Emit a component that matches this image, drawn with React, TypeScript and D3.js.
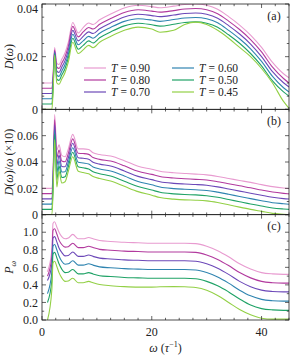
import React from "react";
import * as d3 from "d3";

// frequency grid (tau^-1)
const omega = [0, 1.0, 1.8, 2.0, 2.3, 2.7, 3.1, 3.6, 4.2, 4.8, 5.6, 6.6, 7.5, 8.5, 9.3, 10.5, 12.5, 15, 17.5, 20, 21.5, 24, 26, 28, 30, 32, 34, 36, 38, 40, 42, 44, 45];

const temps = ["0.90", "0.80", "0.70", "0.60", "0.50", "0.45"];
const colors = ["#e89bd0", "#b23a9e", "#6c48b8", "#2f84b0", "#1fa266", "#93d046"];

// (a) D(omega), one row per temperature
const dos = [
  [0.0100, 0.0100, 0.0100, 0.0130, 0.0235, 0.0175, 0.0170, 0.0190, 0.0215, 0.0255, 0.0330, 0.0290, 0.0310, 0.0328, 0.0322, 0.0340, 0.0362, 0.0385, 0.0395, 0.0390, 0.0386, 0.0392, 0.0398, 0.0400, 0.0395, 0.0380, 0.0352, 0.0320, 0.0282, 0.0235, 0.0178, 0.0135, 0.0120],
  [0.0080, 0.0080, 0.0080, 0.0115, 0.0225, 0.0160, 0.0155, 0.0175, 0.0200, 0.0240, 0.0315, 0.0275, 0.0294, 0.0311, 0.0305, 0.0323, 0.0345, 0.0368, 0.0378, 0.0373, 0.0369, 0.0375, 0.0381, 0.0383, 0.0378, 0.0363, 0.0335, 0.0303, 0.0265, 0.0218, 0.0160, 0.0117, 0.0100],
  [0.0060, 0.0060, 0.0060, 0.0100, 0.0220, 0.0145, 0.0140, 0.0160, 0.0185, 0.0225, 0.0300, 0.0260, 0.0277, 0.0294, 0.0288, 0.0306, 0.0328, 0.0351, 0.0361, 0.0356, 0.0352, 0.0358, 0.0364, 0.0366, 0.0361, 0.0346, 0.0318, 0.0286, 0.0248, 0.0200, 0.0143, 0.0101, 0.0085],
  [0.0040, 0.0040, 0.0040, 0.0085, 0.0215, 0.0130, 0.0125, 0.0145, 0.0170, 0.0210, 0.0285, 0.0245, 0.0260, 0.0277, 0.0270, 0.0289, 0.0311, 0.0334, 0.0344, 0.0339, 0.0334, 0.0341, 0.0347, 0.0349, 0.0344, 0.0329, 0.0300, 0.0268, 0.0230, 0.0182, 0.0125, 0.0082, 0.0066],
  [0.0020, 0.0020, 0.0020, 0.0070, 0.0210, 0.0115, 0.0110, 0.0130, 0.0155, 0.0195, 0.0270, 0.0228, 0.0243, 0.0260, 0.0252, 0.0272, 0.0294, 0.0317, 0.0327, 0.0321, 0.0316, 0.0323, 0.0330, 0.0332, 0.0327, 0.0312, 0.0283, 0.0251, 0.0212, 0.0165, 0.0108, 0.0066, 0.0050],
  [0.0000, 0.0000, 0.0000, 0.0055, 0.0205, 0.0100, 0.0095, 0.0115, 0.0140, 0.0180, 0.0255, 0.0212, 0.0226, 0.0243, 0.0234, 0.0255, 0.0277, 0.0300, 0.0312, 0.0305, 0.0293, 0.0300, 0.0322, 0.0331, 0.0322, 0.0300, 0.0270, 0.0235, 0.0200, 0.0155, 0.0100, 0.0030, 0.0004],
];

// (b) D(omega)/omega (x10)
const reduced = [
  [0.020, 0.020, 0.020, 0.030, 0.076, 0.049, 0.053, 0.045, 0.044, 0.050, 0.061, 0.050, 0.050, 0.0495, 0.047, 0.0457, 0.0445, 0.0410, 0.0368, 0.0345, 0.0330, 0.0318, 0.0313, 0.0308, 0.0302, 0.0290, 0.0275, 0.0260, 0.0245, 0.0228, 0.0213, 0.0202, 0.0198],
  [0.016, 0.016, 0.016, 0.027, 0.072, 0.0434, 0.049, 0.0408, 0.0402, 0.0466, 0.0576, 0.0466, 0.0464, 0.0458, 0.0434, 0.0420, 0.0407, 0.0371, 0.0329, 0.0306, 0.0290, 0.0278, 0.0273, 0.0268, 0.0263, 0.0250, 0.0235, 0.0219, 0.0204, 0.0187, 0.0172, 0.0162, 0.0158],
  [0.012, 0.012, 0.012, 0.024, 0.068, 0.0378, 0.045, 0.0366, 0.0364, 0.0432, 0.0542, 0.0432, 0.0428, 0.0421, 0.0398, 0.0384, 0.0369, 0.0332, 0.0291, 0.0266, 0.0250, 0.0238, 0.0233, 0.0229, 0.0223, 0.0211, 0.0195, 0.0179, 0.0163, 0.0147, 0.0132, 0.0122, 0.0119],
  [0.008, 0.008, 0.008, 0.021, 0.064, 0.0322, 0.041, 0.0324, 0.0326, 0.0398, 0.0508, 0.0398, 0.0392, 0.0384, 0.0362, 0.0347, 0.0331, 0.0293, 0.0252, 0.0227, 0.0210, 0.0198, 0.0193, 0.0189, 0.0184, 0.0171, 0.0155, 0.0138, 0.0122, 0.0106, 0.0091, 0.0083, 0.0079],
  [0.004, 0.004, 0.004, 0.018, 0.061, 0.0266, 0.037, 0.0282, 0.0288, 0.0364, 0.0474, 0.0364, 0.0356, 0.0347, 0.0326, 0.0311, 0.0293, 0.0254, 0.0214, 0.0187, 0.0170, 0.0158, 0.0153, 0.0150, 0.0144, 0.0132, 0.0115, 0.0098, 0.0081, 0.0066, 0.0051, 0.0043, 0.0040],
  [0.000, 0.000, 0.000, 0.015, 0.057, 0.021, 0.033, 0.024, 0.025, 0.033, 0.044, 0.033, 0.032, 0.031, 0.029, 0.0274, 0.0255, 0.0215, 0.0175, 0.0148, 0.0130, 0.0118, 0.0112, 0.0110, 0.0105, 0.0092, 0.0075, 0.0057, 0.0040, 0.0025, 0.0010, 0.0003, 0.0000],
];

// (c) participation ratio P_omega
const participation = [
  [null, 0.55, 0.80, 1.10, 1.12, 1.06, 1.00, 0.95, 0.925, 0.935, 0.975, 0.925, 0.925, 0.94, 0.925, 0.905, 0.895, 0.885, 0.88, 0.875, 0.875, 0.875, 0.875, 0.87, 0.84, 0.79, 0.72, 0.64, 0.58, 0.54, 0.525, 0.52, 0.52],
  [null, 0.50, 0.72, 1.02, 1.04, 0.98, 0.91, 0.86, 0.83, 0.835, 0.875, 0.825, 0.825, 0.84, 0.825, 0.805, 0.795, 0.785, 0.78, 0.775, 0.775, 0.775, 0.775, 0.77, 0.74, 0.69, 0.62, 0.54, 0.48, 0.44, 0.425, 0.42, 0.42],
  [null, 0.45, 0.64, 0.93, 0.95, 0.89, 0.82, 0.77, 0.73, 0.735, 0.775, 0.725, 0.725, 0.74, 0.725, 0.705, 0.695, 0.685, 0.68, 0.675, 0.675, 0.675, 0.675, 0.67, 0.64, 0.59, 0.52, 0.44, 0.38, 0.34, 0.325, 0.32, 0.32],
  [null, 0.30, 0.55, 0.84, 0.86, 0.80, 0.73, 0.67, 0.635, 0.64, 0.675, 0.625, 0.625, 0.64, 0.625, 0.605, 0.595, 0.585, 0.58, 0.575, 0.575, 0.575, 0.575, 0.57, 0.54, 0.49, 0.42, 0.34, 0.275, 0.235, 0.22, 0.215, 0.215],
  [null, 0.20, 0.45, 0.75, 0.77, 0.71, 0.64, 0.58, 0.54, 0.545, 0.575, 0.525, 0.525, 0.54, 0.525, 0.505, 0.495, 0.485, 0.48, 0.475, 0.475, 0.475, 0.475, 0.47, 0.44, 0.39, 0.32, 0.24, 0.17, 0.13, 0.115, 0.11, 0.11],
  [null, 0.00, 0.35, 0.65, 0.67, 0.61, 0.54, 0.48, 0.44, 0.445, 0.475, 0.425, 0.425, 0.44, 0.425, 0.405, 0.39, 0.38, 0.375, 0.375, 0.378, 0.38, 0.378, 0.37, 0.34, 0.28, 0.20, 0.12, 0.06, 0.02, 0.01, 0.01, 0.01],
];

const xMajor = [0, 20, 40];
const xMinor = d3.range(0, 45.01, 2.5);

const yMajorA = [0, 0.02, 0.04];
const yMajorALabels = ["0", "0.02", "0.04"];
const yMajorB = [0, 0.02, 0.04, 0.06, 0.08];
const yMajorBLabels = ["0", "0.02", "0.04", "0.06", ""];
const yMajorC = [0, 0.2, 0.4, 0.6, 0.8, 1.0, 1.2];
const yMajorCLabels = ["0.0", "0.2", "0.4", "0.6", "0.8", "1.0", ""];

const FONT = "'Liberation Serif', 'DejaVu Serif', serif";
const left = 42;
const right = 289;
const top = 4;
const bottom = 320;
const ph = (bottom - top) / 3;

export default function App() {
  const x = d3.scaleLinear().domain([0, 45]).range([left, right]);

  const panels = [
    { tag: "(a)", data: dos, max: 0.04, major: yMajorA, labels: yMajorALabels, minorStep: 0.005 },
    { tag: "(b)", data: reduced, max: 0.08, major: yMajorB, labels: yMajorBLabels, minorStep: 0.01 },
    { tag: "(c)", data: participation, max: 1.2, major: yMajorC, labels: yMajorCLabels, minorStep: 0.1 },
  ];

  const tickStroke = "#222";

  return (
    <svg width={291} height={355} style={{ position: "absolute", left: 0, top: 0 }} fontFamily={FONT}>
      {panels.map((p, pi) => {
        const y0 = top + ph * pi;
        const y = d3.scaleLinear().domain([0, p.max]).range([y0 + ph, y0]);
        const line = d3
          .line<number | null>()
          .defined((d) => d !== null)
          .x((_, i) => x(omega[i]))
          .y((d) => y(d as number))
          .curve(d3.curveMonotoneX);
        const yMinor = d3.range(0, p.max + 1e-9, p.minorStep);
        return (
          <g key={p.tag}>
            <defs>
              <clipPath id={"clip" + pi}>
                <rect x={left} y={y0} width={right - left} height={ph} />
              </clipPath>
            </defs>
            <g clipPath={`url(#clip${pi})`}>
              {p.data.map((row, i) => (
                <path key={i} d={line(row as (number | null)[]) || ""} fill="none" stroke={colors[i]} strokeWidth={1.1} />
              ))}
            </g>
            <rect x={left} y={y0} width={right - left} height={ph} fill="none" stroke={tickStroke} strokeWidth={0.8} />
            {xMinor.map((t) => {
              const big = xMajor.includes(t);
              const len = big ? 4 : 2.2;
              return (
                <g key={"x" + t} stroke={tickStroke} strokeWidth={0.7}>
                  <line x1={x(t)} x2={x(t)} y1={y0 + ph} y2={y0 + ph - len} />
                  <line x1={x(t)} x2={x(t)} y1={y0} y2={y0 + len} />
                </g>
              );
            })}
            {yMinor.map((t) => {
              const big = p.major.some((m) => Math.abs(m - t) < 1e-9);
              const len = big ? 4 : 2.2;
              return (
                <g key={"y" + t} stroke={tickStroke} strokeWidth={0.7}>
                  <line x1={left} x2={left + len} y1={y(t)} y2={y(t)} />
                  <line x1={right} x2={right - len} y1={y(t)} y2={y(t)} />
                </g>
              );
            })}
            {p.major.map((t, i) => (
              <text key={"l" + t} x={left - 4} y={Math.max(y(t), 9)} dy="0.35em" textAnchor="end" fontSize={12} fill="#222">
                {p.labels[i]}
              </text>
            ))}
            <text x={274} y={y0 + 11.5} dy="0.35em" textAnchor="middle" fontSize={12} fill="#222">
              {p.tag}
            </text>
          </g>
        );
      })}

      {xMajor.map((t) => (
        <text key={"xl" + t} x={x(t)} y={332} dy="0.35em" textAnchor="middle" fontSize={12} fill="#222">
          {t}
        </text>
      ))}
      <text x={(left + right) / 2} y={348} dy="0.35em" textAnchor="middle" fontSize={12} fill="#222">
        <tspan fontStyle="italic">ω</tspan>
        <tspan> (</tspan>
        <tspan fontStyle="italic">τ</tspan>
        <tspan fontSize={8} dy="-5">−1</tspan>
        <tspan dy="5">)</tspan>
      </text>

      <text transform={`translate(9,${top + ph / 2}) rotate(-90)`} textAnchor="middle" dy="0.35em" fontSize={12} fill="#222">
        <tspan fontStyle="italic">D</tspan>(<tspan fontStyle="italic">ω</tspan>)
      </text>
      <text transform={`translate(9,${top + ph * 1.5}) rotate(-90)`} textAnchor="middle" dy="0.35em" fontSize={12} fill="#222">
        <tspan fontStyle="italic">D</tspan>(<tspan fontStyle="italic">ω</tspan>)/<tspan fontStyle="italic">ω</tspan> (×10)
      </text>
      <text transform={`translate(9,${top + ph * 2.5}) rotate(-90)`} textAnchor="middle" dy="0.35em" fontSize={12} fill="#222">
        <tspan fontStyle="italic">P</tspan>
        <tspan fontStyle="italic" fontSize={8} dy="3">ω</tspan>
      </text>

      {temps.map((t, i) => {
        const col = i < 3 ? 0 : 1;
        const row = i % 3;
        const lx = col === 0 ? 84 : 172;
        const ly = 68 + row * 12;
        return (
          <g key={t}>
            <line x1={lx} x2={lx + 22} y1={ly} y2={ly} stroke={colors[i]} strokeWidth={1.2} />
            <text x={lx + 27} y={ly} dy="0.35em" fontSize={11.5} fontStyle="italic" fill="#222">T</text>
            <text x={lx + 36.5} y={ly} dy="0.35em" fontSize={11.5} fill="#222">= {t}</text>
          </g>
        );
      })}
    </svg>
  );
}
